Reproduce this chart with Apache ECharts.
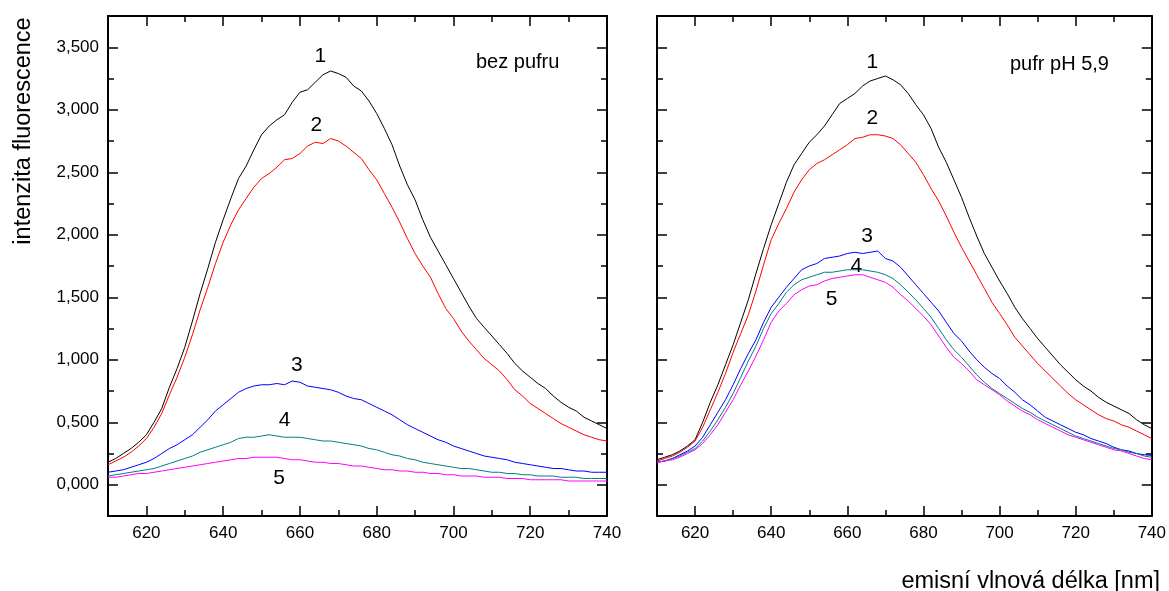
<!DOCTYPE html>
<html>
<head>
<meta charset="utf-8">
<script src="https://cdn.jsdelivr.net/npm/echarts@6/dist/echarts.min.js"></script>
<style>html,body{margin:0;padding:0;background:#fff}#c{width:1169px;height:591px}</style>
</head>
<body>
<div id="c"></div>
<script>
// Wavelengths (nm)
var wavelengths = [610,612,614,616,618,620,622,624,626,628,630,632,634,636,638,640,642,644,646,648,650,652,654,656,658,660,662,664,666,668,670,672,674,676,678,680,682,684,686,688,690,692,694,696,698,700,702,704,706,708,710,712,714,716,718,720,722,724,726,728,730,732,734,736,738,740];

// Left panel: bez pufru
var left1 = [0.18,0.21,0.25,0.29,0.34,0.40,0.50,0.61,0.78,0.93,1.10,1.31,1.53,1.73,1.94,2.12,2.29,2.45,2.55,2.68,2.80,2.87,2.92,2.96,3.06,3.14,3.16,3.22,3.28,3.31,3.29,3.26,3.19,3.15,3.07,2.97,2.85,2.72,2.55,2.40,2.28,2.12,1.98,1.87,1.76,1.65,1.54,1.43,1.33,1.26,1.19,1.12,1.05,0.97,0.91,0.86,0.81,0.77,0.71,0.66,0.62,0.59,0.54,0.51,0.48,0.45];
var left2 = [0.16,0.19,0.22,0.26,0.31,0.37,0.46,0.57,0.72,0.86,1.02,1.20,1.40,1.58,1.77,1.94,2.08,2.20,2.29,2.38,2.45,2.49,2.54,2.60,2.61,2.65,2.71,2.74,2.73,2.77,2.75,2.71,2.66,2.61,2.52,2.44,2.33,2.22,2.10,1.97,1.85,1.75,1.66,1.53,1.41,1.33,1.23,1.15,1.08,1.01,0.96,0.91,0.84,0.76,0.71,0.65,0.61,0.57,0.53,0.49,0.46,0.43,0.40,0.38,0.36,0.35];
var left3 = [0.10,0.11,0.12,0.14,0.16,0.18,0.21,0.25,0.29,0.32,0.36,0.40,0.46,0.52,0.59,0.64,0.69,0.74,0.77,0.79,0.80,0.80,0.81,0.80,0.83,0.82,0.79,0.78,0.77,0.76,0.74,0.71,0.69,0.68,0.65,0.62,0.59,0.56,0.52,0.48,0.45,0.42,0.39,0.36,0.34,0.31,0.29,0.27,0.25,0.23,0.22,0.21,0.20,0.18,0.17,0.16,0.15,0.14,0.13,0.13,0.12,0.11,0.11,0.10,0.10,0.10];
var left4 = [0.07,0.08,0.09,0.10,0.11,0.12,0.13,0.15,0.17,0.19,0.21,0.23,0.26,0.28,0.30,0.32,0.34,0.37,0.38,0.38,0.39,0.40,0.39,0.38,0.38,0.38,0.37,0.36,0.35,0.35,0.34,0.33,0.32,0.31,0.29,0.28,0.26,0.24,0.23,0.21,0.20,0.18,0.17,0.16,0.15,0.14,0.13,0.13,0.12,0.11,0.10,0.10,0.09,0.09,0.08,0.08,0.07,0.07,0.07,0.06,0.06,0.06,0.05,0.05,0.05,0.05];
var left5 = [0.06,0.06,0.07,0.08,0.09,0.09,0.10,0.11,0.12,0.13,0.14,0.15,0.16,0.17,0.18,0.19,0.20,0.21,0.21,0.22,0.22,0.22,0.22,0.21,0.20,0.20,0.19,0.18,0.18,0.17,0.17,0.16,0.15,0.15,0.14,0.13,0.12,0.12,0.11,0.11,0.10,0.10,0.09,0.09,0.08,0.08,0.07,0.07,0.07,0.06,0.06,0.06,0.05,0.05,0.05,0.04,0.04,0.04,0.04,0.04,0.03,0.03,0.03,0.03,0.03,0.03];

// Right panel: pufr pH 5,9
var right1 = [0.20,0.22,0.24,0.27,0.31,0.36,0.50,0.66,0.80,0.96,1.12,1.30,1.48,1.69,1.89,2.08,2.25,2.42,2.56,2.65,2.74,2.80,2.87,2.96,3.05,3.09,3.13,3.19,3.23,3.25,3.27,3.24,3.20,3.13,3.04,2.96,2.85,2.70,2.58,2.44,2.30,2.14,1.99,1.85,1.74,1.63,1.53,1.42,1.33,1.25,1.17,1.10,1.03,0.96,0.90,0.84,0.79,0.75,0.70,0.66,0.63,0.60,0.57,0.52,0.48,0.45];
var right2 = [0.19,0.21,0.23,0.26,0.30,0.35,0.46,0.60,0.74,0.89,1.06,1.21,1.36,1.55,1.76,1.96,2.09,2.21,2.34,2.44,2.52,2.57,2.60,2.64,2.68,2.72,2.77,2.78,2.80,2.80,2.79,2.77,2.72,2.65,2.58,2.48,2.37,2.27,2.15,2.02,1.90,1.79,1.68,1.57,1.46,1.37,1.28,1.18,1.11,1.04,0.97,0.91,0.85,0.79,0.73,0.68,0.64,0.60,0.56,0.53,0.51,0.48,0.46,0.43,0.40,0.37];
var right3 = [0.18,0.19,0.21,0.24,0.27,0.31,0.38,0.48,0.58,0.68,0.80,0.93,1.05,1.16,1.30,1.42,1.50,1.58,1.65,1.72,1.75,1.77,1.81,1.82,1.83,1.85,1.86,1.85,1.86,1.87,1.81,1.79,1.74,1.67,1.60,1.53,1.46,1.39,1.30,1.21,1.15,1.07,1.00,0.94,0.89,0.85,0.79,0.74,0.68,0.64,0.59,0.54,0.51,0.48,0.45,0.42,0.40,0.37,0.35,0.33,0.30,0.28,0.27,0.25,0.24,0.235];
var right4 = [0.18,0.19,0.21,0.23,0.26,0.29,0.35,0.43,0.52,0.62,0.73,0.86,0.99,1.11,1.25,1.37,1.45,1.54,1.60,1.64,1.66,1.68,1.70,1.70,1.71,1.72,1.72,1.72,1.71,1.70,1.68,1.65,1.60,1.54,1.48,1.41,1.34,1.25,1.16,1.08,1.02,0.95,0.88,0.82,0.77,0.73,0.69,0.65,0.61,0.58,0.54,0.51,0.48,0.45,0.42,0.39,0.37,0.35,0.33,0.31,0.29,0.28,0.26,0.25,0.23,0.22];
var right5 = [0.18,0.19,0.20,0.22,0.25,0.28,0.33,0.40,0.48,0.58,0.68,0.80,0.91,1.03,1.16,1.30,1.39,1.45,1.52,1.56,1.59,1.60,1.63,1.65,1.66,1.67,1.68,1.68,1.66,1.64,1.62,1.58,1.52,1.47,1.41,1.35,1.28,1.19,1.10,1.02,0.97,0.91,0.84,0.80,0.76,0.72,0.67,0.63,0.59,0.56,0.52,0.49,0.46,0.43,0.40,0.38,0.36,0.34,0.32,0.30,0.28,0.27,0.25,0.23,0.21,0.20];

// Axis ticks
var xMajorTicks = [620,640,660,680,700,720,740];
var xMinorTicks = [610,630,650,670,690,710,730];
var yMajorTicks = [0,0.5,1.0,1.5,2.0,2.5,3.0,3.5];
var yMinorTicks = [-0.25,0.25,0.75,1.25,1.75,2.25,2.75,3.25,3.75];

// Curve annotations [x, y, text]
var leftNotes = [[665.3,3.43,'1'],[664.3,2.88,'2'],[659.2,0.96,'3'],[656.0,0.52,'4'],[654.6,0.05,'5']];
var rightNotes = [[666.6,3.38,'1'],[666.6,2.93,'2'],[665.2,1.99,'3'],[662.4,1.75,'4'],[655.9,1.485,'5']];
var leftTitle = 'bez pufru';
var rightTitle = 'pufr pH 5,9';
var yTitle = 'intenzita fluorescence';
var xTitle = 'emisní vlnová délka [nm]';

var colors = ['#000000','#ff0000','#0000ff','#008080','#ff00ff'];
var FONT = 'Liberation Sans, Arial, sans-serif';

function pairs(vals){ return wavelengths.map(function(w,i){ return [w, vals[i]]; }); }
function fmtY(v){ return v.toFixed(3).replace('.', ','); }

var xAxes = [], yAxes = [];
function addX(grid){
  var base = {type:'value', gridIndex:grid, min:610, max:740, splitLine:{show:false}};
  xAxes.push(Object.assign({}, base, {position:'bottom',
    axisLine:{show:true, onZero:false, lineStyle:{color:'#000', width:2}},
    axisTick:{show:true, inside:true, length:10, customValues:xMajorTicks, lineStyle:{color:'#000', width:1.5}},
    axisLabel:{show:true, customValues:xMajorTicks, color:'#000', fontSize:17, fontFamily:FONT, margin:9}}));
  xAxes.push(Object.assign({}, base, {position:'bottom',
    axisLine:{show:false, onZero:false},
    axisTick:{show:true, inside:true, length:6, customValues:xMinorTicks, lineStyle:{color:'#000', width:1.5}},
    axisLabel:{show:false}}));
  xAxes.push(Object.assign({}, base, {position:'top',
    axisLine:{show:true, onZero:false, lineStyle:{color:'#000', width:2}},
    axisTick:{show:true, inside:true, length:10, customValues:xMajorTicks, lineStyle:{color:'#000', width:1.5}},
    axisLabel:{show:false}}));
  xAxes.push(Object.assign({}, base, {position:'top',
    axisLine:{show:false, onZero:false},
    axisTick:{show:true, inside:true, length:6, customValues:xMinorTicks, lineStyle:{color:'#000', width:1.5}},
    axisLabel:{show:false}}));
  return xAxes.length - 4;
}
function addY(grid, labels){
  var base = {type:'value', gridIndex:grid, min:-0.25, max:3.75, splitLine:{show:false}};
  yAxes.push(Object.assign({}, base, {position:'left',
    axisLine:{show:true, onZero:false, lineStyle:{color:'#000', width:2}},
    axisTick:{show:true, inside:true, length:10, customValues:yMajorTicks, lineStyle:{color:'#000', width:1.5}},
    axisLabel:{show:labels, customValues:yMajorTicks, color:'#000', fontSize:17, fontFamily:FONT, margin:9, formatter:fmtY}}));
  yAxes.push(Object.assign({}, base, {position:'left',
    axisLine:{show:false, onZero:false},
    axisTick:{show:true, inside:true, length:6, customValues:yMinorTicks, lineStyle:{color:'#000', width:1.5}},
    axisLabel:{show:false}}));
  yAxes.push(Object.assign({}, base, {position:'right',
    axisLine:{show:true, onZero:false, lineStyle:{color:'#000', width:2}},
    axisTick:{show:true, inside:true, length:10, customValues:yMajorTicks, lineStyle:{color:'#000', width:1.5}},
    axisLabel:{show:false}}));
  yAxes.push(Object.assign({}, base, {position:'right',
    axisLine:{show:false, onZero:false},
    axisTick:{show:true, inside:true, length:6, customValues:yMinorTicks, lineStyle:{color:'#000', width:1.5}},
    axisLabel:{show:false}}));
  return yAxes.length - 4;
}

var lx = addX(0), ly = addY(0, true);
var rx = addX(1), ry = addY(1, false);

var series = [];
[left1,left2,left3,left4,left5].forEach(function(s,i){
  series.push({type:'line', xAxisIndex:lx, yAxisIndex:ly, data:pairs(s), showSymbol:false, symbol:'none',
    lineStyle:{color:colors[i], width:1}, itemStyle:{color:colors[i]}, silent:true, animation:false});
});
[right1,right2,right3,right4,right5].forEach(function(s,i){
  series.push({type:'line', xAxisIndex:rx, yAxisIndex:ry, data:pairs(s), showSymbol:false, symbol:'none',
    lineStyle:{color:colors[i], width:1}, itemStyle:{color:colors[i]}, silent:true, animation:false});
});
function notes(data, xi, yi){
  return {type:'scatter', xAxisIndex:xi, yAxisIndex:yi, data:data, symbol:'circle', symbolSize:2,
    itemStyle:{color:'rgba(0,0,0,0)'}, silent:true, animation:false, z:10,
    label:{show:true, position:'inside', formatter:function(p){return p.data[2];}, color:'#000000', opacity:1, textBorderWidth:0, fontSize:21, fontFamily:FONT}};
}
series.push(notes(leftNotes, lx, ly));
series.push(notes(rightNotes, rx, ry));

var chart = echarts.init(document.getElementById('c'), null, {renderer:'canvas'});
chart.setOption({
  backgroundColor:'#ffffff',
  animation:false,
  grid:[
    {left:108, top:16, width:499, height:500},
    {left:657, top:16, width:499, height:500}
  ],
  xAxis:xAxes,
  yAxis:yAxes,
  series:series,
  graphic:[
    {type:'text', left:476, top:52, style:{text:leftTitle, fill:'#000', font:'20px ' + FONT}},
    {type:'text', left:1010, top:54, style:{text:rightTitle, fill:'#000', font:'20px ' + FONT}},
    {type:'text', x:24, y:131, rotation:Math.PI/2, style:{text:yTitle, fill:'#000', font:'23.5px ' + FONT, align:'center', verticalAlign:'middle'}},
    {type:'text', x:1160, y:582, style:{text:xTitle, fill:'#000', font:'23.5px ' + FONT, align:'right', verticalAlign:'middle'}}
  ]
});
</script>
</body>
</html>
